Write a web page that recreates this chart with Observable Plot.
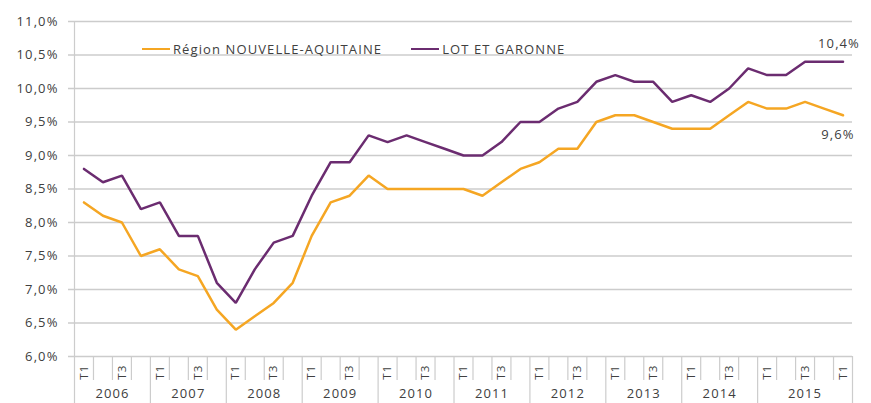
<!DOCTYPE html>
<html><head><meta charset="utf-8">
<script src="https://cdn.jsdelivr.net/npm/d3@7"></script>
<script src="https://cdn.jsdelivr.net/npm/@observablehq/plot@0.6"></script>
<style>
body{margin:0;background:#fff;}
#wrap{position:relative;width:871px;height:403px;font-family:"Open Sans",sans-serif;}
#wrap svg text{letter-spacing:1.1px;}
#legend{position:absolute;left:142px;top:40px;font-size:13px;letter-spacing:1.1px;color:#404040;display:flex;align-items:center;white-space:nowrap;}
#legend .sw{display:inline-block;width:28px;height:2.4px;margin-right:3px;vertical-align:middle;}
#legend .item{display:flex;align-items:center;}
</style></head><body><div id="wrap"></div>
<script>
const years = ["2006","2007","2008","2009","2010","2011","2012","2013","2014","2015"];
const yearCounts = [4,4,4,4,4,4,4,4,4,5];
const quarters = ["T1","T2","T3","T4","T1","T2","T3","T4","T1","T2","T3","T4","T1","T2","T3","T4","T1","T2","T3","T4","T1","T2","T3","T4","T1","T2","T3","T4","T1","T2","T3","T4","T1","T2","T3","T4","T1","T2","T3","T4","T1"];
const region = [8.3,8.1,8.0,7.5, 7.6,7.3,7.2,6.7, 6.4,6.6,6.8,7.1, 7.8,8.3,8.4,8.7, 8.5,8.5,8.5,8.5, 8.5,8.4,8.6,8.8, 8.9,9.1,9.1,9.5, 9.6,9.6,9.5,9.4, 9.4,9.4,9.6,9.8, 9.7,9.7,9.8,9.7,9.6];
const lot = [8.8,8.6,8.7,8.2, 8.3,7.8,7.8,7.1, 6.8,7.3,7.7,7.8, 8.4,8.9,8.9,9.3, 9.2,9.3,9.2,9.1, 9.0,9.0,9.2,9.5, 9.5,9.7,9.8,10.1, 10.2,10.1,10.1,9.8, 9.9,9.8,10.0,10.3, 10.2,10.2,10.4,10.4,10.4];
const seriesNames = ["Région NOUVELLE-AQUITAINE","LOT ET GARONNE"];
const colors = ["#F5A623","#6B2C70"];
const yTicks = [6,6.5,7,7.5,8,8.5,9,9.5,10,10.5,11];

const fmt = v => v.toFixed(1).replace(".", ",") + "%";
const rows = quarters.map((q,i)=>({i, q, region: region[i], lot: lot[i]}));
let start = 0;
const groups = years.map((y,k)=>{const g={year:y, start, end:start+yearCounts[k]}; start+=yearCounts[k]; return g;});
const W = 871, H = 403, mL = 74, mR = 19, mT = 21, mB = 47;
const n = quarters.length;
const pxX = n/(W-mL-mR);          // data units per pixel (x)
const pxY = (11-6)/(H-mT-mB);     // data units per pixel (y)
const boundaries = d3.range(n+1).map(i=>i-0.5);
const yearBounds = new Set([ -0.5, ...groups.map(g=>g.end-0.5)]);
const shortB = boundaries.filter(b=>!yearBounds.has(b));
const longB = boundaries.filter(b=>yearBounds.has(b));
const gridC = "#cccccc", textC = "#404040";
const last = rows[n-1];

const chart = Plot.plot({
  width: W, height: H,
  marginLeft: mL, marginRight: mR, marginTop: mT, marginBottom: mB,
  style: {fontFamily: "'Open Sans', sans-serif", fontSize: "13px", color: textC, background: "#fff", overflow: "visible"},
  x: {type: "linear", domain: [-0.5, n-0.5], axis: null},
  y: {domain: [6, 11], axis: null},
  marks: [
    Plot.ruleY(yTicks, {x1: -0.5 - 6*pxX, x2: n-0.5, stroke: gridC, strokeWidth: 1.3}),
    Plot.ruleX(longB, {y1: 6 - 60*pxY, y2: 11, stroke: gridC, strokeWidth: 1.2, filter: d => d === -0.5}),
    Plot.ruleX(longB, {y1: 6 - 60*pxY, y2: 6, stroke: gridC, strokeWidth: 1.2, filter: d => d !== -0.5}),
    Plot.ruleX(shortB, {y1: 6 - 24*pxY, y2: 6, stroke: gridC, strokeWidth: 1.2}),
    Plot.text(yTicks, {x: -0.5, y: d=>d, text: d=>fmt(d), textAnchor: "end", dx: -16, fill: textC, fontSize: 13}),
    Plot.text(rows.filter(d=>d.q==="T1"||d.q==="T3"), {x: "i", y: 6, text: "q", rotate: -90, textAnchor: "end", dy: 8, fontSize: 11.5, fill: textC}),
    Plot.text(groups, {x: g => (g.start + g.end - 1)/2, y: 6, text: "year", dy: 37, fontSize: 13, fill: textC}),
    Plot.line(rows, {x: "i", y: "region", stroke: colors[0], strokeWidth: 2.5, strokeLinejoin: "miter"}),
    Plot.line(rows, {x: "i", y: "lot", stroke: colors[1], strokeWidth: 2.5, strokeLinejoin: "miter"}),
    Plot.text([last], {x: "i", y: "lot", text: d=>fmt(d.lot), dy: -18, dx: -4, fill: textC, fontSize: 13}),
    Plot.text([last], {x: "i", y: "region", text: d=>fmt(d.region), dy: 20, dx: -5, fill: textC, fontSize: 13})
  ]
});
const wrap = document.getElementById("wrap");
wrap.appendChild(chart);
const leg = document.createElement("div");
leg.id = "legend";
leg.innerHTML = seriesNames.map((s,k)=>`<span class="item" style="margin-right:${k===0?29:0}px"><span class="sw" style="background:${colors[k]}"></span>${s}</span>`).join("");
wrap.appendChild(leg);
</script></body></html>
